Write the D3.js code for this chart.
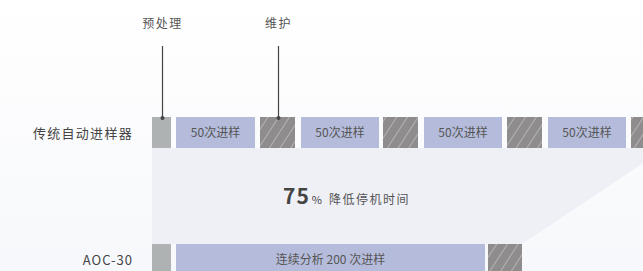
<!DOCTYPE html>
<html><head><meta charset="utf-8">
<script src="https://cdn.jsdelivr.net/npm/d3@7"></script>
<style>
html,body{margin:0;padding:0;background:#fff;}
svg{display:block;font-family:"Noto Sans CJK SC","Noto Sans",sans-serif;}
</style></head>
<body><div id="chart"></div>
<script>
// Rows (categories)
const rows = ["传统自动进样器", "AOC-30"];
// Segment types per row, with start/end in time units
const row1Types  = ["pre", "sample", "maint", "sample", "maint", "sample", "maint", "sample", "maint"];
const row1Starts = [0, 4.8, 21.6, 29.8, 46.2, 54.4, 71.0, 79.2, 95.8];
const row1Ends   = [3.8, 20.6, 28.6, 45.4, 53.2, 70.0, 78.0, 94.8, 102.8];
const row1Labels = ["", "50次进样", "", "50次进样", "", "50次进样", "", "50次进样", ""];
const row2Types  = ["pre", "sample", "maint"];
const row2Starts = [0, 4.8, 67.2];
const row2Ends   = [3.8, 66.6, 74.0];
const row2Labels = ["", "连续分析 200 次进样", ""];
const callouts = ["预处理", "维护"];
const reductionValue = "75";
const reductionText = "降低停机时间";

const W = 643, H = 271;
const svg = d3.select("#chart").append("svg").attr("width", W).attr("height", H);
const defs = svg.append("defs");
const grad = defs.append("linearGradient").attr("id", "bg").attr("x1", 0).attr("x2", 0).attr("y1", 0).attr("y2", 1);
grad.append("stop").attr("offset", "0%").attr("stop-color", "#ffffff");
grad.append("stop").attr("offset", "100%").attr("stop-color", "#f7f8fb");
const pat = defs.append("pattern").attr("id", "hatch").attr("patternUnits", "userSpaceOnUse")
  .attr("width", 9).attr("height", 9).attr("patternTransform", "rotate(33)");
pat.append("rect").attr("width", 9).attr("height", 9).attr("fill", "#8e8c8c");
pat.append("line").attr("x1", 0).attr("y1", 0).attr("x2", 0).attr("y2", 9)
  .attr("stroke", "#cfcfcf").attr("stroke-width", 1.2);

svg.append("rect").attr("width", W).attr("height", H).attr("fill", "url(#bg)");

const x = d3.scaleLinear().domain([0, 98.2]).range([152, 643]);
const y = d3.scaleBand().domain(rows).range([117, 275]).paddingInner(0.756);

const data = [
  {row: rows[0], types: row1Types, starts: row1Starts, ends: row1Ends, labels: row1Labels},
  {row: rows[1], types: row2Types, starts: row2Starts, ends: row2Ends, labels: row2Labels}
];

// shaded trapezoid between rows
const top1 = y(rows[0]) + y.bandwidth();
const top2 = y(rows[1]);
const end1 = x(d3.max(row1Ends)), end2 = x(d3.max(row2Ends));
svg.append("path")
  .attr("d", d3.line()([[x(0), top1], [end1, top1], [end2, top2], [x(0), top2]]) + "Z")
  .attr("fill", "#eff0f6");

const fills = {pre: "#aeb2b3", sample: "#b5bcdb", maint: "url(#hatch)"};

data.forEach(r => {
  const g = svg.append("g");
  const segs = r.types.map((t, i) => ({t, s: r.starts[i], e: r.ends[i], label: r.labels[i]}));
  g.selectAll("rect").data(segs).join("rect")
    .attr("x", d => x(d.s)).attr("width", d => x(d.e) - x(d.s))
    .attr("y", y(r.row)).attr("height", y.bandwidth())
    .attr("fill", d => fills[d.t]);
  g.selectAll("text").data(segs.filter(d => d.label)).join("text")
    .attr("x", d => (x(d.s) + x(d.e)) / 2)
    .attr("y", y(r.row) + 16)
    .attr("dy", "0.35em")
    .attr("text-anchor", "middle")
    .attr("font-size", 12).attr("fill", "#555")
    .text(d => d.label);
  svg.append("text")
    .attr("x", 133).attr("y", y(r.row) + 16).attr("dy", "0.35em")
    .attr("text-anchor", "end").attr("font-size", 13)
    .attr("letter-spacing", r.row === rows[0] ? 1.3 : 1)
    .attr("fill", "#444").text(r.row);
});

// callouts
const calloutSegs = [
  {label: callouts[0], s: row1Starts[0], e: row1Ends[0]},
  {label: callouts[1], s: row1Starts[2], e: row1Ends[2]}
];
calloutSegs.forEach(c => {
  const cx = Math.round((x(c.s) + x(c.e)) / 2) + 0.5;
  svg.append("line").attr("x1", cx).attr("x2", cx).attr("y1", 46).attr("y2", y(rows[0]) + 1)
    .attr("stroke", "#444").attr("stroke-width", 1.2);
  svg.append("circle").attr("cx", cx).attr("cy", y(rows[0]) + 1).attr("r", 2).attr("fill", "#444");
  svg.append("text").attr("x", cx).attr("y", 24).attr("dy", "0.35em")
    .attr("text-anchor", "middle").attr("font-size", 12).attr("letter-spacing", 1.5)
    .attr("fill", "#555").text(c.label);
});

// reduction label
const t = svg.append("text").attr("x", 283).attr("y", 204).attr("fill", "#444");
t.append("tspan").attr("font-size", 21).attr("font-weight", "bold").attr("letter-spacing", 1).text(reductionValue);
t.append("tspan").attr("font-size", 11).attr("dx", 2).text("%");
t.append("tspan").attr("font-size", 12).attr("dx", 7).attr("letter-spacing", 1.5).attr("fill", "#555").text(reductionText);
</script></body></html>
